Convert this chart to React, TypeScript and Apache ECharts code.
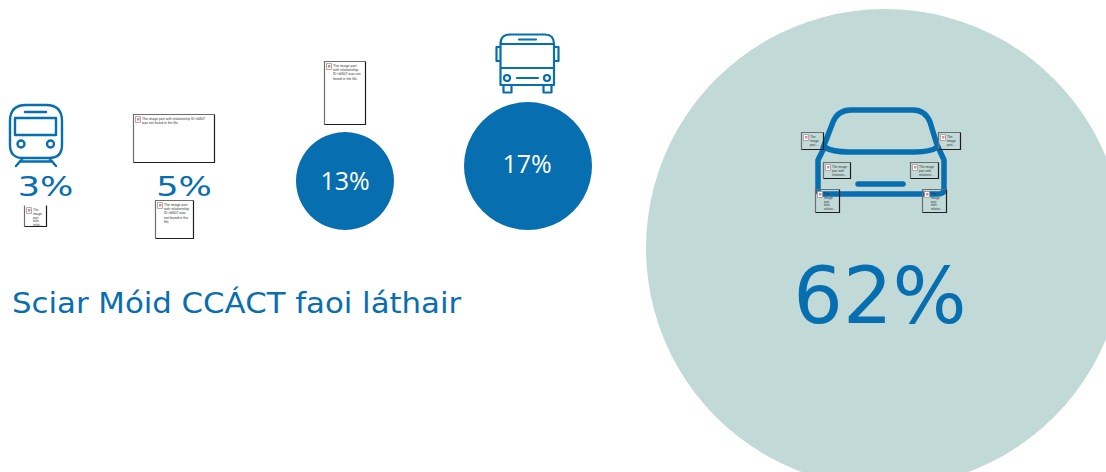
import React, { useEffect, useRef } from "react";
import * as echarts from "echarts";

const BLUE = "#076EB0";
const TEAL = "#C1D9D7";

const shareValues = [3, 5, 13, 17, 62];
const shareLabels = ["3%", "5%", "13%", "17%", "62%"];
const titleText = "Sciar Móid CCÁCT faoi láthair";

const bubbleX = [45, 184, 345, 528, 885];
const bubbleY = [187, 187, 181, 166, 248];
const bubbleSize = [2, 2, 98, 128, 478];

const missingA = ["The image part with relationship ID rId307", "was not found in the file."];
const missingB = ["The", "image", "part", "with", "relati..."];
const missingC = ["The image part", "with relationship", "ID rId307 was", "not found in the", "file."];
const missingD = ["The image part", "with relationship", "ID rId307 was not", "found in the file."];
const missingE = ["The", "image", "part..."];
const missingF = ["The image", "part with", "relations..."];
const missingG = ["The", "image", "part", "with", "relatio..."];

const TRAIN =
  "M10 121Q10 105 26 105L46 105Q62 105 62 121L62 145Q62 158 49 158L23 158Q10 158 10 145Z" +
  "M15 118L56 118L56 135L15 135Z M25 112L46 112" +
  "M24.5 144A3.5 3.5 0 1 1 17.5 144A3.5 3.5 0 1 1 24.5 144Z" +
  "M54 144A3.5 3.5 0 1 1 47 144A3.5 3.5 0 1 1 54 144Z" +
  "M23 158L16 166M49 158L56 166M20 161.5L52 161.5";
const BUS =
  "M500.5 44Q500.5 34.5 510 34.5L545 34.5Q554 34.5 554 44L554 85L500.5 85Z" +
  "M500.5 44L554 44M500.5 68L554 68M519 39.5L536 39.5M517 78L538 78" +
  "M500.5 47L496.5 47L496.5 61L500.5 61M554 47L558.5 47L558.5 61L554 61" +
  "M510 78A3 3 0 1 1 504 78A3 3 0 1 1 510 78Z M550 78A3 3 0 1 1 544 78A3 3 0 1 1 550 78Z" +
  "M503.5 85L503.5 92.5L511.5 92.5L511.5 85M543.5 85L543.5 92.5L551.5 92.5L551.5 85";
const CAR =
  "M823 148L833 122Q838 110 851 110L913 110Q925 110 930 122L938 148" +
  "M824 147Q833 152 848 152L915 152Q930 152 938 147" +
  "M824 148L818 160L818 190Q818 194 824 194L937 194Q944 194 944 190L944 160L938 147" +
  "M858 184L903 184";

echarts.graphic.registerShape("trainIcon", echarts.graphic.extendPath(TRAIN, {}));
echarts.graphic.registerShape("busIcon", echarts.graphic.extendPath(BUS, {}));
echarts.graphic.registerShape("carIcon", echarts.graphic.extendPath(CAR, {}));

function placeholder(x: number, y: number, w: number, h: number, lines: string[], fs: number, openTop = false) {
  const lh = fs + 0.7;
  const l = x + 0.5;
  const t = y + 0.5;
  const grayPoints = openTop
    ? [[l, t], [l, t + h]]
    : [[l, t + h], [l, t], [l + w, t]];
  return [
    {
      type: "polyline", z: 20, shape: { points: grayPoints },
      style: { fill: "none", stroke: "#6E6E6E", lineWidth: 1.2 },
    },
    {
      type: "polyline", z: 20, shape: { points: [[l, t + h], [l + w, t + h], [l + w, t]] },
      style: { fill: "none", stroke: "#1E1E1E", lineWidth: 1.2 },
    },
    {
      type: "rect", z: 21, shape: { x: x + 2.5, y: y + 2.5, width: 5, height: 6 },
      style: { fill: "#FFFFFF", stroke: "#9A9A9A", lineWidth: 0.8 },
    },
    {
      type: "rect", z: 22, shape: { x: x + 4, y: y + 4, width: 2.5, height: 2.5 },
      style: { fill: "#F0808A" },
    },
    ...lines.map((line, i) => ({
      type: "text", z: 23, x: x + 9, y: y + 3 + i * lh,
      style: { text: line, fill: "#333333", font: `${fs}px "Liberation Sans"`, textVerticalAlign: "top" },
    })),
  ];
}

export default function App() {
  const ref = useRef<HTMLDivElement>(null);
  useEffect(() => {
    const chart = echarts.init(ref.current!, undefined, { renderer: "svg" });
    const labelOffsets: number[][] = [[0, 0], [0, 0], [0, -1], [-1, -3], [-5, 48]];
    const labelFonts = [
      { fontFamily: "Open Sans", fontSize: 25, color: "#FFFFFF" },
      { fontFamily: "Open Sans", fontSize: 25, color: "#FFFFFF" },
      { fontFamily: "Open Sans", fontSize: 25, color: "#FFFFFF" },
      { fontFamily: "Open Sans", fontSize: 25, color: "#FFFFFF" },
      { fontFamily: "DejaVu Sans", fontSize: 78, color: BLUE },
    ];
    const fills = ["rgba(0,0,0,0)", "rgba(0,0,0,0)", BLUE, BLUE, TEAL];
    const iconStyle = { fill: "none", stroke: BLUE, lineWidth: 2.4, lineCap: "round", lineJoin: "round" };
    chart.setOption({
      animation: false,
      grid: { left: 0, right: 0, top: 0, bottom: 0 },
      xAxis: { type: "value", min: 0, max: 1106, show: false },
      yAxis: { type: "value", min: 0, max: 472, inverse: true, show: false },
      series: [
        {
          type: "scatter",
          clip: false,
          z: 2,
          data: shareValues.map((v, i) => ({
            name: shareLabels[i],
            value: [bubbleX[i], bubbleY[i], v],
            symbolSize: bubbleSize[i],
            itemStyle: { color: fills[i], opacity: 1 },
            label: {
              show: i >= 2,
              position: "inside",
              formatter: shareLabels[i],
              offset: labelOffsets[i],
              ...labelFonts[i],
            },
          })),
        },
      ],
      graphic: [
        { type: "trainIcon", z: 10, style: iconStyle },
        { type: "busIcon", z: 10, style: { ...iconStyle, lineWidth: 2.2 } },
        { type: "carIcon", z: 10, style: { ...iconStyle, lineWidth: 5.5 } },
        {
          type: "text", z: 10, x: 45.5, y: 187, scaleX: 1.3,
          style: { text: shareLabels[0], fill: BLUE, font: '27px "DejaVu Sans"', textAlign: "center", textVerticalAlign: "middle" },
        },
        {
          type: "text", z: 10, x: 184, y: 187, scaleX: 1.3,
          style: { text: shareLabels[1], fill: BLUE, font: '27px "DejaVu Sans"', textAlign: "center", textVerticalAlign: "middle" },
        },
        {
          type: "text", z: 10, x: 12, y: 289, scaleX: 1.1,
          style: { text: titleText, fill: BLUE, font: '28px "DejaVu Sans"', textVerticalAlign: "top" },
        },
        ...placeholder(133, 114, 81, 48, missingA, 3.4),
        ...placeholder(24, 205, 22, 21, missingB, 3.2, true),
        ...placeholder(155, 200, 38, 38, missingC, 3.5),
        ...placeholder(324, 61, 41, 63, missingD, 3.5),
        ...placeholder(801, 132, 22, 17, missingE, 3.2),
        ...placeholder(938, 132, 22, 17, missingE, 3.2),
        ...placeholder(823, 162, 27, 16, missingF, 3.2),
        ...placeholder(910, 162, 28, 16, missingF, 3.2),
        ...placeholder(815, 189, 24, 23, missingG, 3.2),
        ...placeholder(922, 189, 24, 23, missingG, 3.2),
      ],
    });
    return () => chart.dispose();
  }, []);
  return (
    <div
      ref={ref}
      style={{ position: "fixed", left: 0, top: 0, width: 1106, height: 472, background: "#FFFFFF", overflow: "hidden" }}
    />
  );
}
